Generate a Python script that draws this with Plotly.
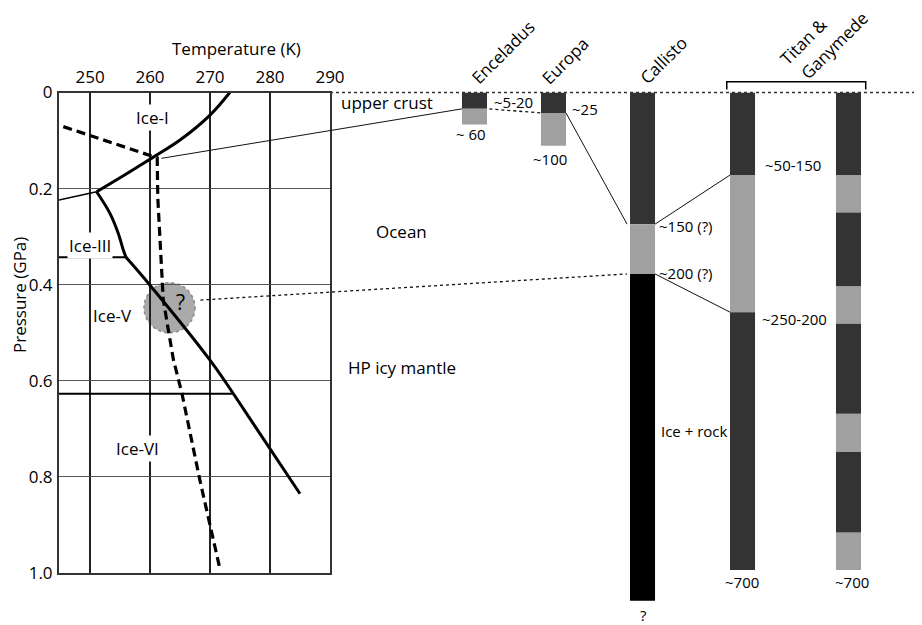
import plotly.graph_objects as go

# ---------------- data ----------------
temp_ticks = [250, 260, 270, 280, 290]
press_ticks = [0.0, 0.2, 0.4, 0.6, 0.8, 1.0]
press_labels = ["0", "0.2", "0.4", "0.6", "0.8", "1.0"]

# phase boundaries (T in K, P in GPa)
ice_I_melt_T = [273.3, 270.0, 265.0, 260.5, 256.1, 251.1]
ice_I_melt_P = [0.0, 0.047, 0.099, 0.135, 0.169, 0.2065]
ice_I_III_T = [251.1, 244.83]
ice_I_III_P = [0.2065, 0.2237]
ice_III_melt_T = [251.1, 253.3, 254.7, 255.55, 256.0]
ice_III_melt_P = [0.2065, 0.251, 0.293, 0.328, 0.343]
ice_III_V_T = [244.83, 256.0]
ice_III_V_P = [0.343, 0.343]
ice_V_melt_T = [256.0, 260.0, 270.0, 273.9]
ice_V_melt_P = [0.343, 0.401, 0.557, 0.627]
ice_V_VI_T = [244.83, 273.9]
ice_V_VI_P = [0.627, 0.627]
ice_VI_melt_T = [273.9, 285.0]
ice_VI_melt_P = [0.627, 0.835]

# temperature profile (dashed)
profile_T = [245.55, 261.2, 261.3, 261.7, 262.2, 263.05, 263.9, 265.3, 268.3, 271.7]
profile_P = [0.071, 0.136, 0.22, 0.31, 0.43, 0.494, 0.556, 0.625, 0.806, 0.994]

# uncertain region
question_T, question_P = 263.25, 0.448
question_dT, question_dP = 4.25, 0.052

# interior columns (schematic depth, km)
columns = ["Enceladus", "Europa", "Callisto", "Titan/Ganymede A", "Titan/Ganymede B"]
enceladus_depth = [0, 24, 47]
enceladus_layers = ["crust", "ocean"]
europa_depth = [0, 30, 78]
europa_layers = ["crust", "ocean"]
callisto_depth = [0, 193, 266, 745]
callisto_layers = ["crust", "ocean", "rock"]
titan_a_depth = [0, 121, 322, 700]
titan_a_layers = ["crust", "ocean", "hp"]
titan_b_depth = [0, 121, 176, 284, 339, 471, 527, 645, 700]
titan_b_layers = ["crust", "ocean", "hp", "ocean", "hp", "ocean", "hp", "ocean"]

# ---------------- layout constants ----------------
# the page body adds an 8px offset; the figure is sized to fill the rest
OX, OY = 8, 8
W, H = 922 - OX, 625 - OY
FONT = "Open Sans"


def fx(px):
    return (px - OX) / W


def fy(py):
    return 1 - (py - OY) / H


XD = [fx(59), fx(330)]
XR = [244.83, 290]
YD = [fy(573), fy(92.5)]
YR = [1.0, 0.0]
X2D = [fx(330), 1.0]
X2R = [0, 100 * (922 - 330) / 590]
Y2D = [0.0, fy(92.5)]
Y2R = [(625 - 92.5) * 700 / 477.5, 0]
col_x = [24.49, 37.88, 52.97, 69.92, 87.88]
col_w = 4.24
layer_color = {"crust": "#333333", "ocean": "#a0a0a0", "rock": "#000000", "hp": "#333333"}


def lx(T):
    return XD[0] + (T - XR[0]) / (XR[1] - XR[0]) * (XD[1] - XD[0])


def ly(P):
    return YD[1] - (P - YR[1]) / (YR[0] - YR[1]) * (YD[1] - YD[0])


def rx(c):
    return X2D[0] + (c - X2R[0]) / (X2R[1] - X2R[0]) * (X2D[1] - X2D[0])


def ry(d):
    return Y2D[1] - (d - Y2R[1]) / (Y2R[0] - Y2R[1]) * (Y2D[1] - Y2D[0])


fig = go.Figure()

# ---------------- phase diagram ----------------
for T, P, ln in [
    (ice_I_melt_T, ice_I_melt_P, dict(color="black", width=3, shape="spline")),
    (ice_I_III_T, ice_I_III_P, dict(color="black", width=1.5)),
    (ice_III_melt_T, ice_III_melt_P, dict(color="black", width=3, shape="spline")),
    (ice_III_V_T, ice_III_V_P, dict(color="black", width=2)),
    (ice_V_melt_T, ice_V_melt_P, dict(color="black", width=3, shape="spline")),
    (ice_V_VI_T, ice_V_VI_P, dict(color="black", width=2)),
    (ice_VI_melt_T, ice_VI_melt_P, dict(color="black", width=3)),
]:
    fig.add_trace(go.Scatter(x=T, y=P, mode="lines", line=ln, xaxis="x", yaxis="y",
                             hoverinfo="skip"))

fig.add_trace(go.Scatter(x=profile_T, y=profile_P, mode="lines",
                         line=dict(color="black", width=3.2, dash="9px,5px"),
                         xaxis="x", yaxis="y", hoverinfo="skip"))

# ---------------- columns ----------------
all_cols = [
    (enceladus_depth, enceladus_layers),
    (europa_depth, europa_layers),
    (callisto_depth, callisto_layers),
    (titan_a_depth, titan_a_layers),
    (titan_b_depth, titan_b_layers),
]
for kind in ["crust", "ocean", "rock", "hp"]:
    xs, bases, hs = [], [], []
    for ci, (depth, layers) in enumerate(all_cols):
        for li, lay in enumerate(layers):
            if lay == kind:
                xs.append(col_x[ci])
                bases.append(depth[li])
                hs.append(depth[li + 1] - depth[li])
    if xs:
        fig.add_trace(go.Bar(x=xs, y=hs, base=bases, width=[col_w] * len(xs),
                             marker=dict(color=layer_color[kind], line=dict(width=0)),
                             xaxis="x2", yaxis="y2", hoverinfo="skip"))

# ---------------- shapes ----------------
shapes = []
shapes.append(dict(type="circle", xref="x", yref="y", layer="below",
                   x0=question_T - question_dT, x1=question_T + question_dT,
                   y0=question_P - question_dP, y1=question_P + question_dP,
                   fillcolor="#aaaaaa", line=dict(color="#8a8a8a", width=1.5, dash="dot")))
# surface dotted line
shapes.append(dict(type="line", xref="paper", yref="paper", x0=XD[1], x1=1.0,
                   y0=ry(0), y1=ry(0), line=dict(color="#333333", width=1.5, dash="dot")))
# bracket over Titan & Ganymede
bl = rx(col_x[3] - col_w / 2 - 0.55)
br = rx(col_x[4] + col_w / 2 + 0.8)
yb_top = fy(81.7)
yb_bot = fy(89.5)
shapes.append(dict(type="path", xref="paper", yref="paper",
                   path=f"M {bl},{yb_bot} L {bl},{yb_top} L {br},{yb_top} L {br},{yb_bot}",
                   line=dict(color="black", width=1.5)))


def conn(x0, y0, x1, y1, dash="solid", width=1):
    shapes.append(dict(type="line", xref="paper", yref="paper", x0=x0, y0=y0, x1=x1, y1=y1,
                       line=dict(color="#111111", width=width, dash=dash)))


hw = col_w / 2
conn(lx(261.9), ly(0.137), rx(col_x[0] - hw), ry(enceladus_depth[1]))
conn(rx(col_x[0] + hw + 0.4), ry(enceladus_depth[1]), rx(col_x[1] - hw), ry(europa_depth[1]), dash="dot", width=1.3)
conn(rx(col_x[1] + hw), ry(europa_depth[1]), rx(col_x[2] - hw - 0.5), ry(callisto_depth[1]))
conn(rx(col_x[2] + hw), ry(callisto_depth[1]), rx(col_x[3] - hw), ry(titan_a_depth[1]))
conn(lx(268.4), ly(0.432), rx(col_x[2] - hw - 0.5), ry(callisto_depth[2]), dash="dot", width=1.3)
conn(rx(col_x[2] + hw), ry(callisto_depth[2]), rx(col_x[3] - hw), ry(titan_a_depth[2]))

# ---------------- annotations ----------------
ann = []


def label(text, px, py, size=17, angle=0, bg=None, align="center"):
    d = dict(text=text, x=fx(px), y=fy(py), xref="paper", yref="paper", showarrow=False,
             xanchor="center", yanchor="middle", textangle=angle, align=align,
             font=dict(family=FONT, size=size, color="black"))
    if bg:
        d.update(bgcolor=bg, borderpad=1)
    ann.append(d)


label("Temperature (K)", 236, 49)
label("Pressure (GPa)", 20, 295, angle=-90)
label("Ice-I", 152, 117, bg="white")
label("Ice-III", 90, 246, bg="white")
label("Ice-V", 112, 315, bg="white")
label("Ice-VI", 137.5, 448, bg="white")
label("?", 180, 302, size=21)
label("upper crust", 387, 103)
label("Ocean", 401.5, 231)
label("HP icy mantle", 402, 367)
label("~5-20", 513, 102, size=15)
label("~25", 585, 109, size=15)
label("~ 60", 470.5, 134, size=15)
label("~100", 550, 159, size=15)
label("~50-150", 793, 165, size=15)
label("~150 (?)", 685.5, 226, size=15)
label("~200 (?)", 685.5, 273, size=15)
label("~250-200", 794, 319, size=15)
label("Ice + rock", 694.7, 431, size=15)
label("~700", 741.5, 582, size=15)
label("~700", 852, 582, size=15)
label("?", 643, 615, size=15)
label("Enceladus", 502.5, 52.5, angle=-45)
label("Europa", 565.5, 61, angle=-45)
label("Callisto", 663, 60.5, angle=-45)
label("Titan &", 803, 41.5, angle=-45)
label("Ganymede", 834, 45, angle=-45)

fig.update_layout(
    template="none",
    width=W, height=H, margin=dict(l=0, r=0, t=0, b=0, autoexpand=False),
    paper_bgcolor="white", plot_bgcolor="white", showlegend=False,
    barmode="overlay", hovermode=False,
    font=dict(family=FONT, size=17, color="black"),
    xaxis=dict(domain=XD, range=XR, side="top", tickvals=temp_ticks,
               ticktext=[str(t) for t in temp_ticks], ticks="", ticklabelstandoff=1,
               automargin=False,
               showgrid=True, gridcolor="#222222", gridwidth=1.5, zeroline=False,
               showline=True, mirror=True, linecolor="#333333", linewidth=2,
               tickfont=dict(family=FONT, size=17, color="black")),
    yaxis=dict(domain=YD, range=YR, tickvals=press_ticks, ticktext=press_labels,
               ticks="", ticklabelstandoff=1, automargin=False,
               showgrid=True, gridcolor="#555555", gridwidth=1, zeroline=False,
               showline=True, mirror=True, linecolor="#333333", linewidth=2,
               tickfont=dict(family=FONT, size=17, color="black")),
    xaxis2=dict(domain=X2D, range=X2R, anchor="y2", visible=False, automargin=False),
    yaxis2=dict(domain=Y2D, range=Y2R, anchor="x2", visible=False, automargin=False),
    shapes=shapes, annotations=ann,
)

fig.write_html("out.html")
